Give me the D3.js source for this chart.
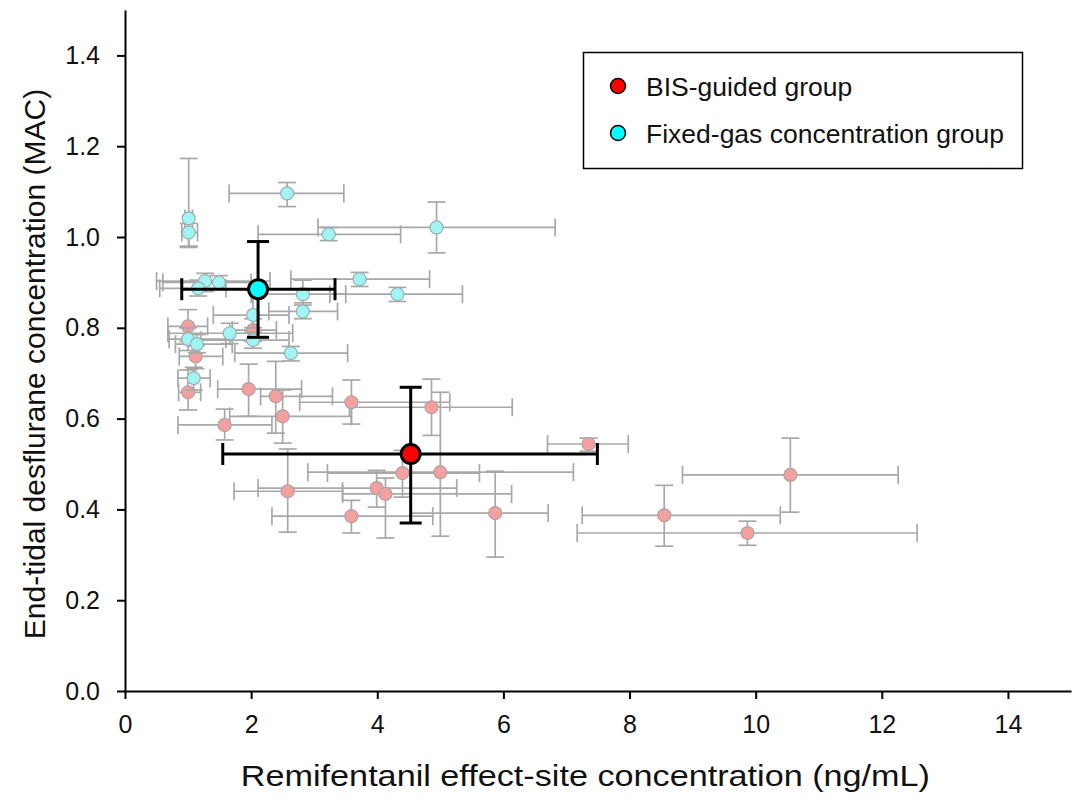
<!DOCTYPE html>
<html><head><meta charset="utf-8">
<script src="https://cdn.jsdelivr.net/npm/d3@7"></script>
<style>body{margin:0;background:#fff}svg{display:block}text{font-family:"Liberation Sans",Arial,sans-serif}</style>
</head><body>
<svg id="c" width="1078" height="797"></svg>
<script>
// BIS-guided group individual patients
const bisX   = [1.00,2.03,1.12,1.00,1.96,2.39,2.50,3.59,4.86,1.58,7.35,4.40,5.00,3.99,4.13,2.58,3.59,5.87,8.55,9.87,10.55];
const bisXLo = [0.68,1.70,0.86,0.85,1.47,2.15,1.66,2.77,3.56,0.84,6.70,3.21,2.90,2.11,3.45,1.73,2.33,4.53,7.25,7.17,8.84];
const bisXHi = [1.31,2.40,1.55,1.20,2.80,3.29,3.59,5.15,6.14,2.33,7.98,5.62,7.11,5.26,6.13,3.45,4.88,6.71,10.39,12.56,12.26];
const bisY   = [0.803,0.795,0.737,0.658,0.665,0.649,0.605,0.636,0.625,0.586,0.544,0.480,0.482,0.447,0.434,0.440,0.385,0.392,0.387,0.348,0.476];
const bisYLo = [0.770,0.770,0.710,0.619,0.605,0.568,0.546,0.588,0.563,0.553,0.528,0.427,0.341,0.405,0.337,0.350,0.348,0.295,0.319,0.321,0.394];
const bisYHi = [0.840,0.820,0.760,0.707,0.720,0.726,0.663,0.685,0.687,0.621,0.557,0.530,0.658,0.486,0.469,0.533,0.420,0.484,0.453,0.374,0.557];

// Fixed-gas concentration group individual patients
const fixX   = [2.57,1.01,1.01,3.23,4.94,3.72,4.32,2.82,2.82,1.27,1.49,1.16,2.03,1.66,2.03,1.00,1.14,2.63,1.09];
const fixXLo = [1.65,0.95,0.90,2.11,3.06,2.63,3.25,2.00,2.28,0.50,0.60,0.55,1.40,0.68,1.20,0.70,0.80,1.74,0.84];
const fixXHi = [3.47,1.07,1.15,4.37,6.82,4.83,5.35,3.50,3.37,2.30,2.00,1.60,2.60,2.66,2.60,1.60,1.70,3.53,1.35];
const fixY   = [1.096,1.041,1.010,1.006,1.021,0.907,0.874,0.874,0.836,0.903,0.900,0.887,0.828,0.788,0.773,0.775,0.764,0.744,0.689];
const fixYLo = [1.067,0.980,0.977,0.992,0.965,0.891,0.858,0.850,0.820,0.880,0.885,0.870,0.800,0.765,0.755,0.750,0.745,0.727,0.663];
const fixYHi = [1.120,1.173,1.030,1.021,1.077,0.922,0.889,0.905,0.855,0.920,0.915,0.905,0.900,0.810,0.790,0.800,0.785,0.759,0.713];

// Group means: [x, xLo, xHi, y, yLo, yHi]
const bisMean = [4.53, 1.55, 7.49, 0.522, 0.370, 0.669];
const fixMean = [2.11, 0.90, 3.33, 0.885, 0.779, 0.990];

const xTicks = [0,2,4,6,8,10,12,14];
const yTicks = [0,0.2,0.4,0.6,0.8,1.0,1.2,1.4];
const legendLabels = ["BIS-guided group","Fixed-gas concentration group"];
const xTitle = "Remifentanil effect-site concentration (ng/mL)";
const yTitle = "End-tidal desflurane concentration (MAC)";

const svg = d3.select("#c");
const x = d3.scaleLinear().domain([0,15]).range([125,1071]);
const y = d3.scaleLinear().domain([0,1.5]).range([691,10]);

function rows(X,XL,XH,Y,YL,YH){return X.map((v,i)=>({x:v,xl:XL[i],xh:XH[i],y:Y[i],yl:YL[i],yh:YH[i]}));}
const bis = rows(bisX,bisXLo,bisXHi,bisY,bisYLo,bisYHi);
const fix = rows(fixX,fixXLo,fixXHi,fixY,fixYLo,fixYHi);

function errBars(g, data, color, w, cap){
  const e = g.selectAll(null).data(data).enter().append("g")
    .attr("stroke",color).attr("stroke-width",w).attr("fill","none");
  e.append("line").attr("x1",d=>x(d.xl)).attr("x2",d=>x(d.xh)).attr("y1",d=>y(d.y)).attr("y2",d=>y(d.y));
  e.append("line").attr("x1",d=>x(d.x)).attr("x2",d=>x(d.x)).attr("y1",d=>y(d.yl)).attr("y2",d=>y(d.yh));
  e.append("line").attr("x1",d=>x(d.xl)).attr("x2",d=>x(d.xl)).attr("y1",d=>y(d.y)-cap).attr("y2",d=>y(d.y)+cap);
  e.append("line").attr("x1",d=>x(d.xh)).attr("x2",d=>x(d.xh)).attr("y1",d=>y(d.y)-cap).attr("y2",d=>y(d.y)+cap);
  e.append("line").attr("x1",d=>x(d.x)-cap).attr("x2",d=>x(d.x)+cap).attr("y1",d=>y(d.yl)).attr("y2",d=>y(d.yl));
  e.append("line").attr("x1",d=>x(d.x)-cap).attr("x2",d=>x(d.x)+cap).attr("y1",d=>y(d.yh)).attr("y2",d=>y(d.yh));
}
function pts(g, data, fill, stroke, r, sw){
  g.selectAll(null).data(data).enter().append("circle")
    .attr("cx",d=>x(d.x)).attr("cy",d=>y(d.y)).attr("r",r)
    .attr("fill",fill).attr("stroke",stroke).attr("stroke-width",sw);
}

const g = svg.append("g");
errBars(g, bis, "#a8a8a8", 1.7, 9);
pts(g, bis, "#f5a0a0", "#b0a0a0", 6.5, 1.2);
errBars(g, fix, "#a8a8a8", 1.7, 9);
pts(g, fix, "#a0f4f4", "#9ab0b0", 6.5, 1.2);

const means = [rows([bisMean[0]],[bisMean[1]],[bisMean[2]],[bisMean[3]],[bisMean[4]],[bisMean[5]]),
               rows([fixMean[0]],[fixMean[1]],[fixMean[2]],[fixMean[3]],[fixMean[4]],[fixMean[5]])];
errBars(g, means[0], "#000", 3, 11);
pts(g, means[0], "#ff0000", "#000", 9.5, 3);
errBars(g, means[1], "#000", 3, 11);
pts(g, means[1], "#00ffff", "#000", 9.5, 3);

// axes
const xa = svg.append("g").attr("transform","translate(0,691)")
  .call(d3.axisBottom(x).tickValues(xTicks).tickFormat(d3.format("d")).tickSize(8).tickPadding(16).tickSizeOuter(0));
const ya = svg.append("g").attr("transform","translate(125,0)")
  .call(d3.axisLeft(y).tickValues(yTicks).tickFormat(d3.format(".1f")).tickSize(8).tickPadding(17).tickSizeOuter(0));
[xa,ya].forEach(a=>{
  a.select(".domain").attr("stroke","#000").attr("stroke-width",2);
  a.selectAll(".tick line").attr("stroke","#000").attr("stroke-width",2);
  a.selectAll(".tick text").attr("fill","#111").style("font-size","25px");
});

svg.append("text").attr("transform","translate("+x(7.3)+",786) scale(1.14,1)").attr("text-anchor","middle")
  .style("font-size","30px").attr("fill","#111").text(xTitle);
svg.append("text").attr("transform","translate(45,364) rotate(-90)").attr("text-anchor","middle")
  .style("font-size","30px").attr("fill","#111").text(yTitle);

// legend
const lg = svg.append("g");
lg.append("rect").attr("x",583.5).attr("y",52.5).attr("width",439).attr("height",116)
  .attr("fill","#fff").attr("stroke","#000").attr("stroke-width",1.5);
const legColors = ["#ff0000","#00ffff"];
legendLabels.forEach((t,i)=>{
  lg.append("circle").attr("cx",618).attr("cy",86+i*47).attr("r",7.5)
    .attr("fill",legColors[i]).attr("stroke","#000").attr("stroke-width",1.5);
  lg.append("text").attr("x",646).attr("y",86+i*47).attr("dy","0.36em")
    .style("font-size","26.5px").attr("fill","#111").text(t);
});
</script>
</body></html>
